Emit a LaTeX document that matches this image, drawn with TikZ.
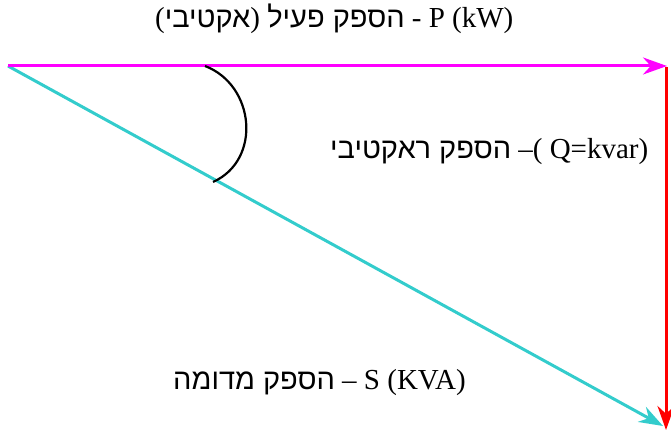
\documentclass[tikz,border=0pt]{standalone}
\usepackage{fontspec}
\setmainfont{Liberation Serif}
\newfontfamily\hebfont[Script=Hebrew]{Liberation Sans}
\usetikzlibrary{arrows.meta}
\TeXXeTstate=1
\definecolor{active}{HTML}{FF00FF}
\definecolor{reactive}{HTML}{FF0000}
\definecolor{apparent}{HTML}{33CCCC}
\newcommand{\heb}[1]{{\hebfont\beginR #1\endR}}
\newcommand{\hparen}[1]{(\heb{#1})}
\tikzset{
  vec/.style={-{Stealth[length=24pt, width=17pt]}, line width=3pt},
  angarc/.style={line width=2.2pt, draw=black},
  lbl/.style={font=\fontsize{29}{34}\selectfont, inner sep=0pt, anchor=base west}
}

\begin{document}
\begin{tikzpicture}[x=1pt, y=-1pt]
  \useasboundingbox (0,0) rectangle (671,435);

  %% corners of the triangle
  \coordinate (O)    at (8,66);
  \coordinate (Pend) at (667,66);
  \coordinate (Qend) at (666,430);
  \coordinate (Send) at (663,426);
  \coordinate (a1)   at (205,66);
  \coordinate (a2)   at (213,182);

  %% vectors
  \draw[vec, draw=reactive, fill=reactive] (666,67) -- (Qend);
  \draw[vec, draw=apparent, fill=apparent] (O) -- (Send);
  \draw[vec, draw=active, fill=active] (O) -- (Pend);

  %% angle
  \draw[angarc] (a1) .. controls (255,85) and (262,160) .. (a2);

  %% labels
  \node[lbl] (plabel) at (155,28) {\hparen{אקטיבי} \heb{הספק פעיל} - P (kW)};
  \node[lbl] (qlabel) at (330,159) {\heb{הספק ראקטיבי} –( Q=kvar)};
  \node[lbl] (slabel) at (173,389) {\heb{הספק מדומה} – S (KVA)};

\end{tikzpicture}
\end{document}
